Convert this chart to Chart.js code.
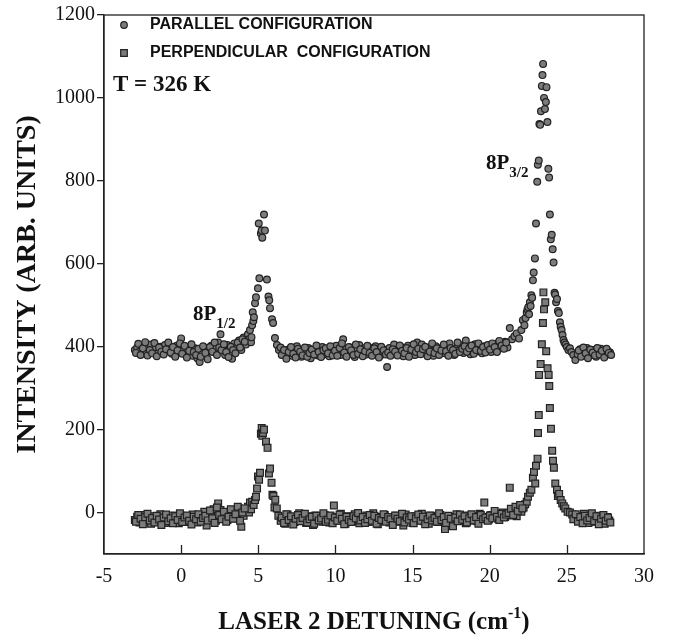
<!DOCTYPE html>
<html>
<head>
<meta charset="utf-8">
<script src="https://cdn.jsdelivr.net/npm/chart.js@4.4.1/dist/chart.umd.min.js"></script>
<style>
  html, body { margin: 0; padding: 0; background: #fff; }
</style>
</head>
<body>
<canvas id="chart" width="673" height="639"></canvas>
<script>
// axis ranges and tick steps
const xRange = [-5, 30];
const yRange = [-100, 1200];
const xStep = 5;
const yStep = 200;

const seriesNames = ["PARALLEL CONFIGURATION", "PERPENDICULAR  CONFIGURATION"];

// parallel configuration (circles)
const parallelX = [
  -3.0,-2.85,-2.7,-2.55,-2.4,-2.25,-2.1,-1.95,-1.8,-1.65,-1.5,-1.35,-1.2,-1.05,-0.9,-0.75,-0.6,-0.45,-0.3,-0.15,
  0,0.15,0.3,0.45,0.6,0.75,0.9,1.05,1.2,1.35,1.5,1.65,1.8,1.95,2.1,2.25,2.4,2.55,2.7,2.85,
  3.0,3.15,3.3,3.45,3.6,3.75,3.9,4.05,4.2,
  // 8P1/2 peak
  4.33,4.4,4.46,4.53,4.56,4.6,4.64,4.68,4.72,4.79,4.85,4.98,5.03,5.07,5.17,5.22,5.26,5.37,5.43,5.56,
  5.66,5.71,5.76,5.89,5.96,6.08,6.21,6.34,
  // flat part
  6.45,6.6,6.75,6.9,7.05,7.2,7.35,7.5,7.65,7.8,
  7.95,8.1,8.25,8.4,8.55,8.7,8.85,9.0,9.15,9.3,
  9.45,9.6,9.75,9.9,10.05,10.2,10.35,10.5,10.65,10.8,
  10.95,11.1,11.25,11.4,11.55,11.7,11.85,12.0,12.15,12.3,
  12.45,12.6,12.75,12.9,13.05,13.2,13.35,13.5,13.65,13.8,
  13.95,14.1,14.25,14.4,14.55,14.7,14.85,15.0,15.15,15.3,
  15.45,15.6,15.75,15.9,16.05,16.2,16.35,16.5,16.65,16.8,
  16.95,17.1,17.25,17.4,17.55,17.7,17.85,18.0,18.15,18.3,
  18.45,18.6,18.75,18.9,19.05,19.2,19.35,19.5,19.65,19.8,
  19.95,20.1,20.25,20.4,20.55,20.7,20.85,21.0,21.15,
  // 8P3/2 peak
  21.3,21.45,21.6,21.75,21.9,22.05,22.15,22.25,22.32,22.4,22.45,22.5,22.55,22.6,22.65,22.7,22.75,22.8,22.85,22.93,
  23.0,23.08,23.12,23.18,23.22,23.27,23.32,23.38,23.42,23.46,23.52,23.58,23.64,23.68,23.74,23.8,23.85,23.9,23.96,24.02,
  24.08,24.14,24.2,24.24,24.3,24.36,24.42,24.48,24.55,24.6,24.66,24.72,24.78,24.84,24.92,25.0,25.1,25.2,25.3,25.42,
  25.55,
  25.7,25.85,26.0,26.15,26.3,26.45,26.6,26.75,26.9,27.05,27.2,27.35,27.5,27.65,27.8,
  // second row of points in the flat parts
  -2.93,-2.78,-2.63,-2.48,-2.33,-2.18,-2.03,-1.88,-1.73,-1.58,-1.43,-1.28,-1.13,-0.98,-0.83,-0.68,-0.53,-0.38,-0.23,-0.08,
  0.07,0.22,0.37,0.52,0.67,0.82,0.97,1.12,1.27,1.42,1.57,1.72,1.87,2.02,2.17,2.32,2.47,2.62,2.77,2.92,
  3.07,3.22,3.37,3.52,3.67,3.82,3.97,4.12,
  6.52,6.67,6.82,6.97,7.12,7.27,7.42,7.57,7.72,7.87,
  8.02,8.17,8.32,8.47,8.62,8.77,8.92,9.07,9.22,9.37,
  9.52,9.67,9.82,9.97,10.12,10.27,10.42,10.57,10.72,10.87,
  11.02,11.17,11.32,11.47,11.62,11.77,11.92,12.07,12.22,12.37,
  12.52,12.67,12.82,12.97,13.12,13.27,13.42,13.57,13.72,13.87,
  14.02,14.17,14.32,14.47,14.62,14.77,14.92,15.07,15.22,15.37,
  15.52,15.67,15.82,15.97,16.12,16.27,16.42,16.57,16.72,16.87,
  17.02,17.17,17.32,17.47,17.62,17.77,17.92,18.07,18.22,18.37,
  18.52,18.67,18.82,18.97,19.12,19.27,19.42,19.57,19.72,19.87,
  20.02,20.17,20.32,20.47,20.62,20.77,20.92,21.07,
  25.77,25.92,26.07,26.22,26.37,26.52,26.67,26.82,26.97,27.12,27.27,27.42,27.57,27.72,27.87
];
const parallelY = [
  392,398,388,401,394,386,399,405,390,396,384,400,393,404,389,397,383,395,402,388,
  420,394,385,399,391,378,396,372,363,389,398,381,393,402,387,396,410,430,394,380,
  404,397,371,408,399,415,392,422,405,
  430,418,440,411,423,452,483,462,471,505,519,541,697,565,673,680,663,719,680,562,
  521,512,493,466,457,421,404,392,
  398,386,392,380,395,378,389,401,384,376,
  391,383,397,372,388,394,379,386,399,382,
  390,377,396,385,402,389,380,418,393,384,
  398,387,375,392,404,386,396,381,399,390,
  384,401,393,378,395,388,351,397,383,405,
  391,386,399,377,394,402,385,390,380,410,
  388,405,393,382,397,389,378,401,392,386,
  399,384,394,408,387,380,396,391,403,385,
  415,400,382,397,406,389,395,384,401,392,
  398,387,404,393,409,396,402,412,398,
  445,418,425,432,420,440,464,452,469,483,490,495,478,507,498,524,518,560,579,613,
  697,798,839,849,937,935,968,1029,1055,1082,1000,973,990,1026,942,829,808,719,659,670,
  635,603,530,526,507,515,486,481,459,448,440,428,416,410,405,399,392,396,387,380,
  368,
  382,394,378,389,397,385,380,392,376,388,395,383,379,390,386,
  385,407,380,396,411,379,392,384,409,377,398,388,381,394,410,386,399,376,391,408,
  383,402,374,390,406,387,380,395,376,401,385,370,399,388,410,380,398,392,406,387,
  375,400,392,384,410,398,418,412,
  380,392,371,387,399,383,374,395,388,379,
  398,376,385,393,381,403,387,375,392,396,
  384,401,379,390,378,397,408,386,376,399,
  391,380,405,383,394,377,389,402,385,378,
  396,387,374,400,391,381,386,378,394,388,
  379,403,390,384,397,376,393,406,387,395,
  382,394,400,377,388,408,385,396,380,391,
  405,389,378,397,392,383,410,387,395,401,
  388,396,403,383,392,408,390,399,386,404,
  393,408,399,387,414,403,395,410,
  391,376,398,384,372,393,386,379,397,381,390,374,395,385,380
];

// perpendicular configuration (squares)
const perpX = [
  -3.0,-2.85,-2.7,-2.55,-2.4,-2.25,-2.1,-1.95,-1.8,-1.65,-1.5,-1.35,-1.2,-1.05,-0.9,-0.75,-0.6,-0.45,-0.3,-0.15,
  0,0.15,0.3,0.45,0.6,0.75,0.9,1.05,1.2,1.35,1.5,1.65,1.8,1.95,2.1,2.25,2.4,2.55,2.7,2.85,
  3.0,3.15,3.3,3.45,3.6,3.75,3.9,4.05,4.2,
  4.33,4.4,4.46,4.53,4.6,4.7,4.79,4.85,4.92,4.98,5.05,5.11,5.17,5.22,5.26,5.3,5.37,5.5,5.6,5.69,
  5.76,5.86,5.92,5.98,6.05,6.1,6.2,
  6.3,6.45,6.6,6.75,6.9,7.05,7.2,7.35,7.5,7.65,
  7.8,7.95,8.1,8.25,8.4,8.55,8.7,8.85,9.0,9.15,
  9.3,9.45,9.6,9.75,9.9,10.05,10.2,10.35,10.5,10.65,
  10.8,10.95,11.1,11.25,11.4,11.55,11.7,11.85,12.0,12.15,
  12.3,12.45,12.6,12.75,12.9,13.05,13.2,13.35,13.5,13.65,
  13.8,13.95,14.1,14.25,14.4,14.55,14.7,14.85,15.0,15.15,
  15.3,15.45,15.6,15.75,15.9,16.05,16.2,16.35,16.5,16.65,
  16.8,16.95,17.1,17.25,17.4,17.55,17.7,17.85,18.0,18.15,
  18.3,18.45,18.6,18.75,18.9,19.05,19.2,19.35,19.5,19.65,
  19.8,19.95,20.1,20.25,20.4,20.55,20.7,20.85,21.0,21.15,
  21.3,21.45,21.6,21.75,21.9,22.05,22.2,
  22.3,22.4,22.48,22.6,22.7,22.8,22.87,22.95,23.0,23.1,23.13,23.18,23.2,23.3,23.38,23.45,23.48,23.52,23.6,23.66,
  23.75,23.82,23.86,23.9,23.97,24.05,24.1,24.16,24.25,24.36,24.42,24.5,24.6,24.7,24.8,24.9,25.05,25.2,
  25.35,25.5,25.65,25.8,25.95,26.1,26.25,26.4,26.55,26.7,26.85,27.0,27.15,27.3,27.45,27.6,27.75,
  // second row of points in the flat parts
  -2.93,-2.78,-2.63,-2.48,-2.33,-2.18,-2.03,-1.88,-1.73,-1.58,-1.43,-1.28,-1.13,-0.98,-0.83,-0.68,-0.53,-0.38,-0.23,-0.08,
  0.07,0.22,0.37,0.52,0.67,0.82,0.97,1.12,1.27,1.42,1.57,1.72,1.87,2.02,2.17,2.32,2.47,2.62,2.77,2.92,
  3.07,3.22,3.37,3.52,3.67,3.82,3.97,4.12,
  6.52,6.67,6.82,6.97,7.12,7.27,7.42,7.57,7.72,7.87,
  8.02,8.17,8.32,8.47,8.62,8.77,8.92,9.07,9.22,9.37,
  9.52,9.67,9.82,9.97,10.12,10.27,10.42,10.57,10.72,10.87,
  11.02,11.17,11.32,11.47,11.62,11.77,11.92,12.07,12.22,12.37,
  12.52,12.67,12.82,12.97,13.12,13.27,13.42,13.57,13.72,13.87,
  14.02,14.17,14.32,14.47,14.62,14.77,14.92,15.07,15.22,15.37,
  15.52,15.67,15.82,15.97,16.12,16.27,16.42,16.57,16.72,16.87,
  17.02,17.17,17.32,17.47,17.62,17.77,17.92,18.07,18.22,18.37,
  18.52,18.67,18.82,18.97,19.12,19.27,19.42,19.57,19.72,19.87,
  20.02,20.17,20.32,20.47,20.62,20.77,20.92,21.07,
  21.22,21.37,21.52,21.67,21.82,21.97,22.12,
  25.42,25.57,25.72,25.87,26.02,26.17,26.32,26.47,26.62,26.77,26.92,27.07,27.22,27.37,27.52,27.67,27.82
];
const perpY = [
  -18,-10,-24,-14,-6,-20,-12,-27,-9,-16,-22,-4,-15,-25,-11,-18,-7,-21,-13,-26,
  -8,-17,-23,-10,-19,-5,-14,-24,-9,-16,2,-31,-12,-3,8,-20,22,6,-11,0,
  -18,-6,4,-14,-2,10,-34,-8,3,
  14,0,24,8,26,18,30,38,58,87,79,96,190,204,185,192,200,171,156,94,
  106,72,43,40,12,31,10,
  -8,-20,-14,-27,-5,-17,-11,-23,-16,-2,
  -19,-12,-25,-9,-15,-30,-7,-18,-13,-22,
  -6,-16,-24,-10,17,-20,-12,-3,-18,-27,
  -9,-15,-21,-4,-14,-26,-11,-19,-7,-23,
  -13,-2,-17,-28,-10,-20,-6,-15,-24,-12,
  -18,-8,-22,-14,-31,-5,-16,-11,-25,-9,
  -19,-13,-3,-21,-15,-27,-8,-17,-12,-23,
  -6,-18,-40,-14,-10,-22,-16,-4,-20,-11,
  -15,-26,-7,-13,-19,-9,-21,-3,-14,24,
  -10,-17,-6,-12,-2,-15,-8,0,-11,-4,
  60,-7,3,-9,5,2,12,
  20,26,38,48,55,84,98,70,113,130,192,235,332,358,406,457,531,490,507,389,
  348,332,305,252,202,149,125,108,70,55,40,45,30,22,15,10,2,0,
  -5,-14,-9,-20,-12,-3,-17,-25,-10,-15,-22,-8,-18,-13,-27,-11,-19,
  -22,-6,-15,-28,-11,-3,-19,-13,-24,-8,-17,-30,-12,-5,-21,-14,-26,-9,-18,-2,
  -23,-12,-7,-20,-29,-10,-16,-4,-22,-13,-8,-19,5,-14,-25,12,-6,-16,2,-22,
  -10,8,-15,-4,14,-20,0,10,
  -12,-25,-4,-18,-9,-29,-15,-6,-21,-13,
  -3,-24,-16,-10,-27,-8,-19,-14,-2,-22,
  -17,-7,-26,-12,-20,-5,-15,-28,-10,-18,
  -23,-9,-14,-1,-19,-11,-25,-16,-6,-20,
  -8,-27,-13,-18,-4,-22,-11,-16,-30,-7,
  -15,-21,-3,-24,-12,-17,-9,-26,-14,-5,
  -20,-10,-28,-16,-7,-19,-13,-22,-2,-18,
  -11,-25,-8,-15,-33,-12,-21,-5,-17,-9,
  -24,-14,-4,-19,-11,-27,-6,-16,-12,-20,
  -7,-14,4,-10,-18,-3,-12,-5,
  -1,9,-6,14,4,18,10,
  -16,-4,-22,-11,-26,-8,-19,-13,-2,-21,-9,-28,-15,-6,-20,-12,-24
];

function toPoints(xs, ys) {
  if (xs.length !== ys.length) console.warn("length mismatch", xs.length, ys.length);
  return xs.map((x, i) => ({ x: x, y: ys[i] }));
}

const SERIF = "'Liberation Serif', 'Times New Roman', serif";
const SANS = "'Liberation Sans', Arial, sans-serif";
const markerFill = "#7c7c7c";
const markerEdge = "#222";

// frame, inward x ticks, legend and labels
const decorations = {
  id: "decorations",
  afterDraw(chart) {
    const { ctx, chartArea: a, scales: { x, y } } = chart;
    ctx.save();
    ctx.strokeStyle = "#222";
    ctx.lineWidth = 1.3;
    ctx.strokeRect(a.left, a.top, a.right - a.left, a.bottom - a.top);

    x.ticks.forEach(t => {
      if (t.value <= xRange[0] || t.value >= xRange[1]) return;
      const px = Math.round(x.getPixelForValue(t.value)) + 0.5;
      ctx.beginPath();
      ctx.moveTo(px, a.bottom);
      ctx.lineTo(px, a.bottom - 9);
      ctx.stroke();
    });

    // legend inside the plot
    ctx.fillStyle = markerFill;
    ctx.strokeStyle = markerEdge;
    ctx.lineWidth = 1.2;
    const mx = a.left + 20;
    ctx.beginPath();
    ctx.arc(mx, a.top + 10, 3.3, 0, Math.PI * 2);
    ctx.fill(); ctx.stroke();
    ctx.beginPath();
    ctx.rect(mx - 3.3, a.top + 38 - 3.3, 6.6, 6.6);
    ctx.fill(); ctx.stroke();

    ctx.fillStyle = "#111";
    ctx.font = "bold 16px " + SANS;
    ctx.textBaseline = "middle";
    ctx.textAlign = "left";
    ctx.fillText(seriesNames[0], a.left + 46, a.top + 10);
    ctx.fillText(seriesNames[1], a.left + 46, a.top + 38);

    ctx.font = "bold 23px " + SERIF;
    ctx.fillText("T = 326 K", a.left + 9, a.top + 70);

    // peak labels with subscripts
    const peakLabel = (dx, dy, sub) => {
      const px = x.getPixelForValue(dx);
      const py = y.getPixelForValue(dy);
      ctx.textBaseline = "alphabetic";
      ctx.font = "bold 21px " + SERIF;
      ctx.fillText("8P", px, py);
      const w = ctx.measureText("8P").width;
      ctx.font = "bold 15px " + SERIF;
      ctx.fillText(sub, px + w, py + 8);
    };
    peakLabel(19.76, 829, "3/2");
    peakLabel(0.77, 465, "1/2");

    // x axis title with superscript
    ctx.textBaseline = "alphabetic";
    const main = "LASER 2 DETUNING (cm";
    ctx.font = "bold 25px " + SERIF;
    const w1 = ctx.measureText(main).width;
    const w3 = ctx.measureText(")").width;
    ctx.font = "bold 16px " + SERIF;
    const w2 = ctx.measureText("-1").width;
    const total = w1 + w2 + w3;
    const cx = (a.left + a.right) / 2 - total / 2;
    const by = 629;
    ctx.font = "bold 25px " + SERIF;
    ctx.fillText(main, cx, by);
    ctx.font = "bold 16px " + SERIF;
    ctx.fillText("-1", cx + w1, by - 11);
    ctx.font = "bold 25px " + SERIF;
    ctx.fillText(")", cx + w1 + w2, by);
    ctx.restore();
  }
};

new Chart(document.getElementById("chart"), {
  type: "scatter",
  data: {
    datasets: [
      {
        label: seriesNames[0],
        data: toPoints(parallelX, parallelY),
        pointStyle: "circle",
        pointRadius: 3.4,
        backgroundColor: markerFill,
        borderColor: markerEdge,
        borderWidth: 1.2
      },
      {
        label: seriesNames[1],
        data: toPoints(perpX, perpY),
        pointStyle: "rect",
        pointRadius: 4.8,
        backgroundColor: markerFill,
        borderColor: markerEdge,
        borderWidth: 1.2
      }
    ]
  },
  options: {
    responsive: false,
    animation: false,
    devicePixelRatio: 1,
    layout: { padding: { top: 15, right: 29, left: 0, bottom: 0 } },
    plugins: {
      legend: { display: false },
      tooltip: { enabled: false }
    },
    scales: {
      x: {
        type: "linear",
        min: xRange[0],
        max: xRange[1],
        afterFit(scale) { scale.height = 85; },
        ticks: {
          stepSize: xStep,
          padding: 11,
          color: "#111",
          font: { family: SERIF, size: 20 },
          callback: v => String(v)
        },
        grid: { drawOnChartArea: false, drawTicks: false },
        border: { color: "#222", width: 1.3 }
      },
      y: {
        type: "linear",
        min: yRange[0],
        max: yRange[1],
        afterFit(scale) { scale.width = 104; },
        ticks: {
          stepSize: yStep,
          includeBounds: false,
          padding: 2,
          color: "#111",
          font: { family: SERIF, size: 20 },
          callback: v => String(v)
        },
        grid: { drawOnChartArea: false, tickLength: 7, color: "#222", lineWidth: 1.3 },
        border: { color: "#222", width: 1.3 },
        title: {
          display: true,
          text: "INTENSITY (ARB. UNITS)",
          color: "#111",
          font: { family: SERIF, size: 28, weight: "bold" },
          padding: { top: 11, bottom: 0 }
        }
      }
    }
  },
  plugins: [decorations]
});
</script>
</body>
</html>
